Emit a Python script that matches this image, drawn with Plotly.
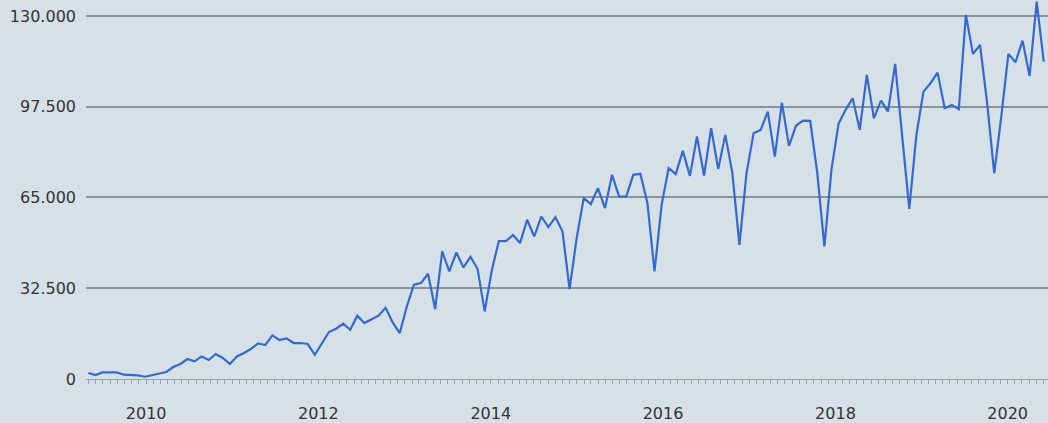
import pandas as pd
import plotly.graph_objects as go

# Observations (one every ~30 days, starting May 2009)
start_date = "2009-05-01"
values = [
    2150, 1430, 2360, 2360, 2360, 1540, 1540, 1290, 820, 1430,
    2000, 2500, 4300, 5370, 7160, 6300, 8090, 6800, 8950, 7510,
    5370, 8090, 9300, 10840, 12740, 12170, 15600, 13950, 14530, 12880,
    12880, 12520, 8690, 12880, 16820, 18000, 19790, 17640, 22650, 20040,
    21220, 22650, 25510, 20250, 16460, 25980, 33740, 34350, 37680, 25050,
    45660, 38500, 45300, 39930, 43760, 39360, 24190, 38860, 49380, 49380,
    51520, 48660, 57000, 51020, 58180, 54390, 57960, 52810, 32200, 50450,
    64760, 62620, 68340, 61180, 73100, 65330, 65330, 73100, 73460, 62970,
    38500, 62360, 75500, 73350, 81690, 72740, 86800, 72850, 89810, 75140,
    87410, 73700, 48050, 73700, 88020, 89200, 95750, 79650, 98970, 83470,
    90740, 92530, 92420, 73700, 47450, 74890, 91350, 96360, 100540, 89200,
    108880, 93380, 99680, 95750, 112820, 86000, 60920, 87300, 102900, 105900,
    109700, 96960, 98140, 96600, 130350, 116400, 119600, 98750, 73700, 93960,
    116400, 113420, 121150, 108520, 135100, 113640,
]
dates = pd.date_range(start_date, periods=len(values), freq="30D")

y_ticks = [0, 32500, 65000, 97500, 130000]
x_tick_years = ["2010-01-01", "2012-01-01", "2014-01-01", "2016-01-01", "2018-01-01", "2020-01-01"]
x_tick_text = ["2010", "2012", "2014", "2016", "2018", "2020"]

bg = "#d6e0e7"
font_family = "DejaVu Sans, Open Sans, sans-serif"
fig = go.Figure()
fig.add_trace(go.Scatter(
    x=dates, y=values, mode="lines",
    line=dict(color="#3669cf", width=2.2),
    hoverinfo="skip",
))

fig.update_layout(
    width=1048, height=423,
    margin=dict(l=86, r=0, t=0, b=44, autoexpand=False),
    paper_bgcolor=bg, plot_bgcolor=bg,
    showlegend=False,
    separators=",.",
    font=dict(family=font_family, size=16, color="#333333"),
)
fig.update_xaxes(
    type="date",
    automargin=False,
    range=["2009-04-21", "2020-06-20"],
    tickvals=x_tick_years, ticktext=x_tick_text,
    ticks="outside", ticklen=4, tickcolor="#9aa3a9", tickwidth=1,
    ticklabelstandoff=16,
    minor=dict(ticks="outside", dtick="M1", tick0="2010-01-01", ticklen=4,
               tickcolor="#9aa3a9", tickwidth=1, showgrid=False),
    showgrid=False, zeroline=False,
    showline=True, linecolor="#9aa3a9", linewidth=1,
    tickfont=dict(family=font_family, size=16, color="#333333"),
)
fig.update_yaxes(
    automargin=False,
    range=[0, 135700],
    tickvals=y_ticks, tickformat=",d",
    showgrid=True, gridcolor="#8b9398", gridwidth=1.5,
    zeroline=False, showline=False, ticks="",
    ticklabelstandoff=9,
    tickfont=dict(family=font_family, size=16, color="#333333"),
)

fig.write_html(
    "out.html",
    config={"displayModeBar": False},
    post_script="document.body.style.margin='0';document.body.style.background='" + bg + "';",
)
